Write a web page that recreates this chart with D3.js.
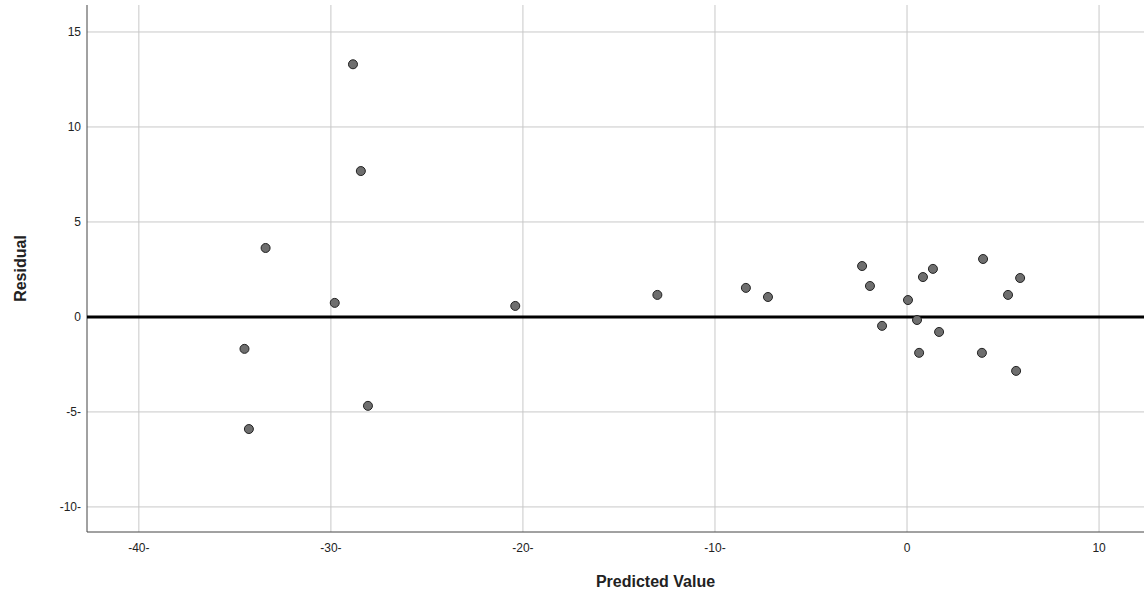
<!DOCTYPE html>
<html><head><meta charset="utf-8">
<script src="https://cdn.jsdelivr.net/npm/d3@7"></script>
<style>body{margin:0;background:#fff;font-family:Arial,"Liberation Sans",sans-serif;}</style>
</head><body><div id="chart"></div>
<script>
// predicted values and residuals
const predicted = [-28.85,-28.44,-33.4,-29.8,-34.5,-34.27,-28.07,-20.4,-13.0,-8.39,-7.24,-2.34,-1.93,-1.30,0.05,0.52,0.63,0.83,1.35,1.67,3.96,3.9,5.26,5.68,5.89];
const residual  = [13.3,7.68,3.63,0.74,-1.68,-5.9,-4.68,0.58,1.16,1.53,1.05,2.68,1.63,-0.47,0.89,-0.16,-1.89,2.1,2.53,-0.79,3.05,-1.89,1.16,-2.84,2.05];
const xTicks = [-40,-30,-20,-10,0,10];
const yTicks = [-10,-5,0,5,10,15];

const W = 1144, H = 598;
const svg = d3.select("#chart").append("svg").attr("width", W).attr("height", H);
const m = {left: 87, right: 1144, top: 5, bottom: 532};
const x = d3.scaleLinear().domain([-42.7, 12.34]).range([m.left, m.right]);
const y = d3.scaleLinear().domain([16.42, -11.32]).range([m.top, m.bottom]);
const fmt = d => d < 0 ? d + "-" : String(d);

const g = svg.append("g");
g.selectAll(".vg").data(xTicks).enter().append("line")
  .attr("x1", d => x(d)).attr("x2", d => x(d)).attr("y1", m.top).attr("y2", m.bottom)
  .attr("stroke", "#c8c8c8");
g.selectAll(".hg").data(yTicks).enter().append("line")
  .attr("x1", m.left).attr("x2", m.right).attr("y1", d => y(d)).attr("y2", d => y(d))
  .attr("stroke", "#c8c8c8");

// axes
svg.append("line").attr("x1", m.left).attr("x2", m.left).attr("y1", m.top).attr("y2", m.bottom).attr("stroke", "#444");
svg.append("line").attr("x1", m.left).attr("x2", m.right).attr("y1", m.bottom).attr("y2", m.bottom).attr("stroke", "#444");

svg.selectAll(".xt").data(xTicks).enter().append("text")
  .attr("x", d => x(d)).attr("y", m.bottom + 20).attr("text-anchor", "middle")
  .attr("font-size", 12).attr("fill", "#222").text(fmt);
svg.selectAll(".yt").data(yTicks).enter().append("text")
  .attr("x", m.left - 6).attr("y", d => y(d) + 4).attr("text-anchor", "end")
  .attr("font-size", 12).attr("fill", "#222").text(fmt);

// reference line at zero
svg.append("line").attr("x1", m.left).attr("x2", m.right).attr("y1", y(0)).attr("y2", y(0))
  .attr("stroke", "#000").attr("stroke-width", 3);

svg.selectAll(".pt").data(predicted).enter().append("circle")
  .attr("cx", d => x(d)).attr("cy", (d, i) => y(residual[i])).attr("r", 4.5)
  .attr("fill", "#6e6e6e").attr("stroke", "#222").attr("stroke-width", 1);

svg.append("text").attr("x", (m.left + m.right) / 2 + 40).attr("y", 587).attr("text-anchor", "middle")
  .attr("font-size", 16).attr("font-weight", "bold").attr("fill", "#222").text("Predicted Value");
svg.append("text").attr("transform", "translate(26," + ((m.top + m.bottom) / 2) + ") rotate(-90)")
  .attr("text-anchor", "middle").attr("font-size", 16).attr("font-weight", "bold").attr("fill", "#222").text("Residual");
</script></body></html>
